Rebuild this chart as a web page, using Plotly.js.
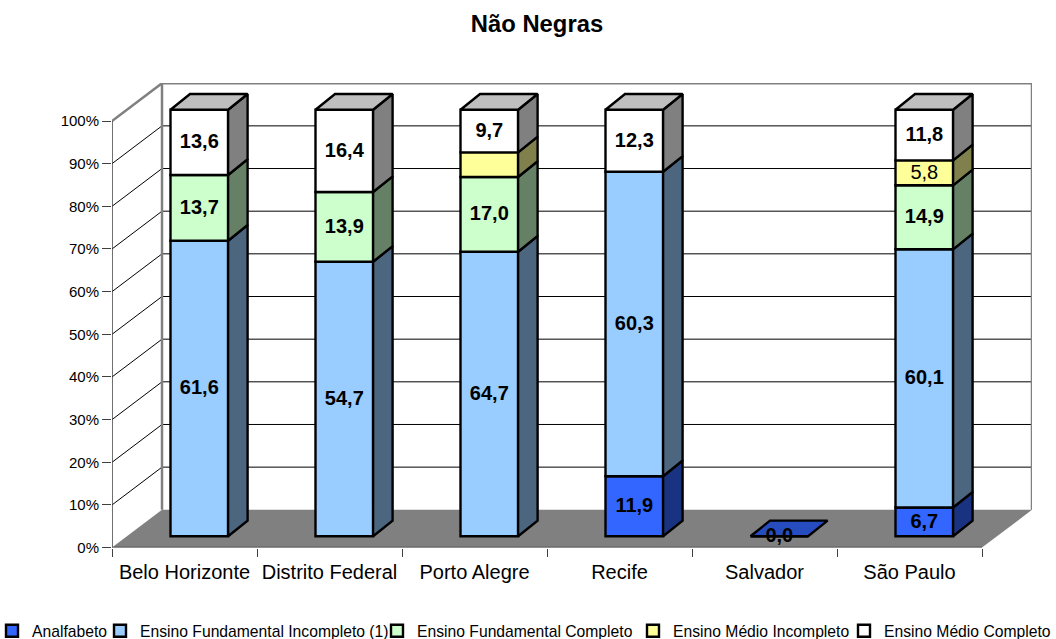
<!DOCTYPE html>
<html><head><meta charset="utf-8">
<script src="https://cdn.plot.ly/plotly-3.0.1.min.js"></script>
<style>html,body{margin:0;padding:0;background:#fff}#c{width:1056px;height:639px}</style>
</head><body><div id="c"></div>
<script>
const cidades = ['Belo Horizonte','Distrito Federal','Porto Alegre','Recife','Salvador','São Paulo'];
const nomes = ['Analfabeto','Ensino Fundamental Incompleto (1)','Ensino Fundamental Completo','Ensino Médio Incompleto','Ensino Médio Completo'];
const analfabeto   = [null,null,null,11.9,0,6.7];
const fundInc      = [61.6,54.7,64.7,60.3,null,60.1];
const fundComp     = [13.7,13.9,17.0,null,null,14.9];
const medioInc     = [null,null,5.6,null,null,5.8];
const medioComp    = [13.6,16.4,9.7,12.3,null,11.8];
const rotulado = [
  [false,false,false,true,true,true],
  [true,true,true,true,false,true],
  [true,true,true,false,false,true],
  [false,false,false,false,false,true],
  [true,true,true,true,false,true]
];
const pesoRegular = {3:true};
const frente  = ['#3366FF','#99CCFF','#CCFFCC','#FFFF99','#FFFFFF'];
const lateral = ['#1A3380','#4D6680','#668066','#80804D','#808080'];
const topo    = ['#264CBF','#7399BF','#99BF99','#BFBF73','#BFBFBF'];
const legendaInicio = [-8,100,377,633,844];
const yTicks = [0,10,20,30,40,50,60,70,80,90,100];

const series = [analfabeto,fundInc,fundComp,medioInc,medioComp];
const pxX = 145, pxY = 4.266;
const wallDX = 50/pxX, wallDY = 37.8/pxY;
const barX = 14.8/pxX, barY = 11.3/pxY, barW = 57.6/pxX, depDX = 19.5/pxX, depDY = 15.7/pxY;
const totals = cidades.map((_,i)=>series.reduce((s,a)=>s+(a[i]||0),0));
const cum = cidades.map(()=>0);
const traces = [], polys = [];
const tx=[],ty=[],tt=[],tw=[];
const lw = 2.4;
series.forEach((arr,si)=>{
  const pct = arr.map((v,i)=>v==null?null:(totals[i]?v/totals[i]*100:0));
  const base = pct.map((v,i)=>cum[i]+barY);
  traces.push({type:'bar',name:nomes[si],x:cidades.map((_,i)=>i),y:pct,base:base,
    offset:barX-barW/2,width:barW,marker:{color:frente[si],line:{color:'#000',width:lw}},
    hoverinfo:'skip',showlegend:true,legend:si===0?'legend':'legend'+(si+1)});
  const sx=[],sy=[],ux=[],uy=[];
  pct.forEach((v,i)=>{
    if(v==null) return;
    const l=i+barX-barW/2, r=l+barW, b=base[i], t=b+v;
    if(v>0){ sx.push(r,r+depDX,r+depDX,r,r,null); sy.push(b,b+depDY,t+depDY,t,b,null); }
    const isTop = !series.slice(si+1).some(a=>a[i]!=null);
    if(isTop){ ux.push(l,l+depDX,r+depDX,r,l,null); uy.push(t,t+depDY,t+depDY,t,t,null); }
    if(rotulado[si][i]){
      tx.push(i+barX); ty.push(b+v/2-0.2);
      tt.push(v===0?'0,0':arr[i].toFixed(1).replace('.',','));
      tw.push(pesoRegular[si]?'normal':'bold');
    }
    cum[i]+=v;
  });
  polys.push({type:'scatter',mode:'lines',x:sx,y:sy,fill:'toself',fillcolor:lateral[si],line:{color:'#000',width:lw},hoverinfo:'skip',showlegend:false});
  if(ux.length) polys.push({type:'scatter',mode:'lines',x:ux,y:uy,fill:'toself',fillcolor:topo[si],line:{color:'#000',width:lw},hoverinfo:'skip',showlegend:false});
});
const labels = {type:'scatter',mode:'text',x:tx,y:ty,text:tt,textposition:'middle center',
  textfont:{family:'Liberation Sans',size:20,color:'#000',weight:tw},hoverinfo:'skip',showlegend:false};

const xL=-0.5, xR=5.5;
const shapes=[];
const poly=(pts)=>'M'+pts.map(p=>p.join(',')).join('L')+'Z';
shapes.push({type:'path',layer:'below',xref:'x',yref:'y',path:poly([[xL,0],[xL+wallDX,wallDY],[xR+wallDX,wallDY],[xR,0]]),fillcolor:'#808080',line:{width:0}});
yTicks.forEach(t=>{
  if(t>0&&t<100) shapes.push({type:'line',layer:'below',xref:'x',yref:'y',x0:xL+wallDX,x1:xR+wallDX,y0:t+wallDY,y1:t+wallDY,line:{color:'#000',width:1}});
  if(t>0&&t<100) shapes.push({type:'line',layer:'below',xref:'x',yref:'y',x0:xL,x1:xL+wallDX,y0:t,y1:t+wallDY,line:{color:'#000',width:1}});
});
const grey={color:'#808080',width:2.5};
shapes.push({type:'line',layer:'below',xref:'x',yref:'y',x0:xL,x1:xL+wallDX,y0:100,y1:100+wallDY,line:grey});
shapes.push({type:'line',layer:'below',xref:'x',yref:'y',x0:xL+wallDX,x1:xL+wallDX,y0:wallDY,y1:100+wallDY,line:grey});
shapes.push({type:'line',layer:'below',xref:'x',yref:'y',x0:xL+wallDX,x1:xR+wallDX,y0:100+wallDY,y1:100+wallDY,line:grey});
shapes.push({type:'line',layer:'below',xref:'x',yref:'y',x0:xR+wallDX,x1:xR+wallDX,y0:wallDY,y1:100+wallDY,line:grey});
const dark={color:'#404040',width:1.5};
shapes.push({type:'line',layer:'below',xref:'x',yref:'y',x0:xL,x1:xL,y0:0,y1:100,line:dark});
shapes.push({type:'line',layer:'below',xref:'x',yref:'y',x0:xL,x1:xR,y0:0,y1:0,line:dark});

const W=1056,H=639,fontF='Liberation Sans';
const layout={
  width:W,height:H,margin:{l:0,r:0,t:0,b:0,autoexpand:false},paper_bgcolor:'#fff',plot_bgcolor:'rgba(0,0,0,0)',
  barmode:'overlay',font:{family:fontF,color:'#000'},
  title:{text:'<b>Não Negras</b>',x:537/W,xanchor:'center',y:1-24/H,yanchor:'middle',font:{family:fontF,size:23.8,color:'#000'}},
  xaxis:{domain:[112/W,1032/W],range:[xL,xL+920/pxX],tickmode:'array',tickvals:cidades.map((_,i)=>i),ticktext:cidades,
    ticks:'outside',ticklen:6,tickcolor:'rgba(0,0,0,0)',tickfont:{size:20,family:fontF,color:'#000'},showgrid:false,zeroline:false,showline:false,
    minor:{tickmode:'array',tickvals:[-0.5,0.5,1.5,2.5,3.5,4.5,5.5],ticks:'outside',ticklen:8,tickwidth:1,tickcolor:'#404040',showgrid:false}},
  yaxis:{domain:[(H-547.6)/H,(H-83)/H],range:[0,464.6/pxY],tickmode:'array',tickvals:yTicks,ticktext:yTicks.map(t=>t+'%'),
    ticks:'outside',ticklen:9,tickwidth:1,tickcolor:'#404040',tickfont:{size:15,family:fontF,color:'#000'},showgrid:false,zeroline:false,showline:false},
  shapes:shapes,
  showlegend:true
};
nomes.forEach((n,i)=>{
  layout[i===0?'legend':'legend'+(i+1)]={x:legendaInicio[i]/W,xanchor:'left',y:1-631/H,yanchor:'middle',orientation:'h',
    bgcolor:'rgba(0,0,0,0)',borderwidth:0,itemclick:false,font:{family:fontF,size:15.7,color:'#000'}};
});
Plotly.newPlot('c',traces.concat(polys,[labels]),layout,{displayModeBar:false,responsive:false});
</script></body></html>
